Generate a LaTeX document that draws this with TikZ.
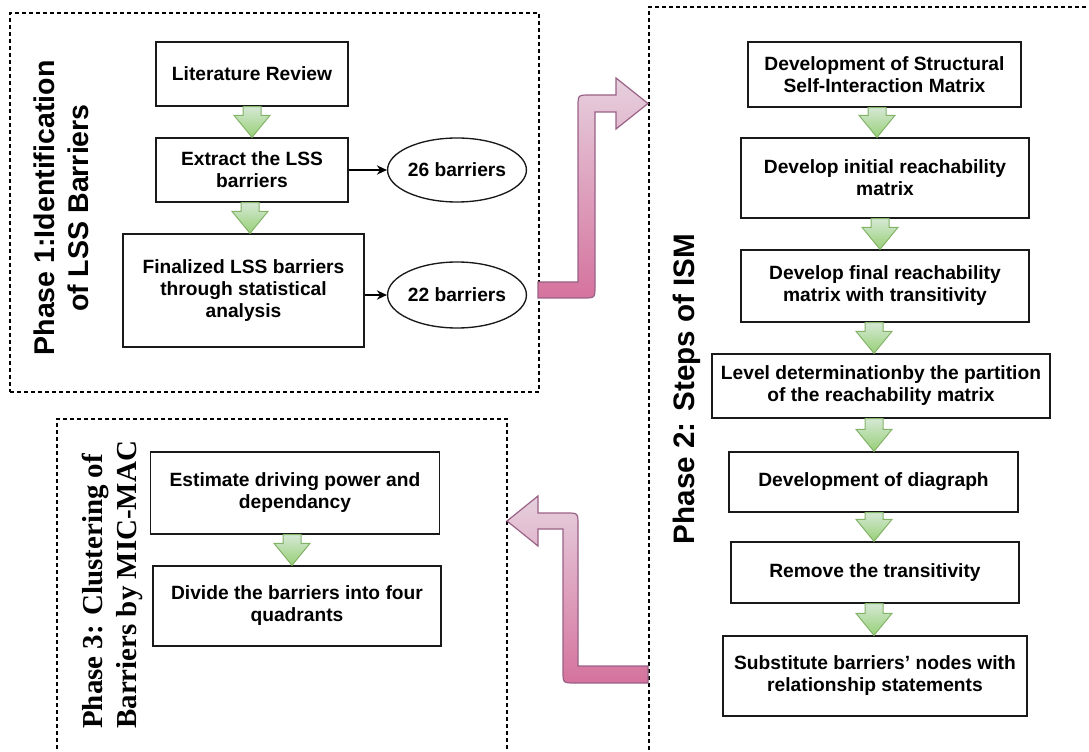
\documentclass[tikz,border=0pt]{standalone}
\usepackage{fontspec}
\setmainfont{Liberation Sans}
\newfontfamily\phaseserif{Liberation Serif}
\usetikzlibrary{calc,arrows.meta,shapes.geometric}

\definecolor{arrowGreenTop}{HTML}{D5E8D4}
\definecolor{arrowGreenBot}{HTML}{97D077}
\definecolor{arrowGreenLine}{HTML}{82B366}
\definecolor{flowPinkTop}{HTML}{E6D0DE}
\definecolor{flowPinkBot}{HTML}{D5739D}
\definecolor{flowPinkLine}{HTML}{996185}

% block arrow between two stacked boxes: #1 source, #2 target, #3 horizontal offset (px)
\newcommand\greenstep[3]{%
  \path[greenarrow] let \p1=($(#1.south)+(#3,0)$), \p2=(#2.north) in
    (\x1-6.75pt,\y1) -- (\x1+6.75pt,\y1) -- (\x1+6.75pt,\y2+16.5pt)
    -- (\x1+13.5pt,\y2+16.5pt) -- (\x1,\y2) -- (\x1-13.5pt,\y2+16.5pt)
    -- (\x1-6.75pt,\y2+16.5pt) -- cycle;}

\begin{document}
\begin{tikzpicture}[x=0.75pt,y=-0.75pt,
  sz/.style 2 args={minimum width=#1*0.75pt, minimum height=#2*0.75pt},
  frame/.style={draw=black, line width=1pt, dash pattern=on 3pt off 2.25pt, inner sep=0pt},
  stepbox/.style={draw=black!90, line width=1pt, fill=white, align=center, inner sep=0pt,
    font=\bfseries\fontsize{14.4}{16.5}\selectfont},
  countnode/.style={stepbox, shape=ellipse},
  conn/.style={line width=1pt, -{Stealth[length=7.5pt,width=7pt]}},
  greenarrow/.style={top color=arrowGreenTop, bottom color=arrowGreenBot, draw=arrowGreenLine, line width=0.75pt},
  flowarrow/.style={top color=flowPinkTop, bottom color=flowPinkBot, draw=flowPinkLine, line width=0.9pt},
  phasesans/.style={rotate=90, inner sep=0pt, font=\bfseries\fontsize{21.4}{25.5}\selectfont}
]
\path[use as bounding box] (0,0) rectangle (1089,752);
\clip (0,0) rectangle (1089,752);

% phase frames
\node[frame, sz={529}{379}] (f1) at (274.5,202.5) {};
\node[frame, sz={461}{768}] (f2) at (879.5,391) {};
\node[frame, sz={450}{356}] (f3) at (282,597) {};

% phase titles
\node[phasesans, align=center] (lab1) at (61.5,208) {Phase 1:Identification\\of LSS Barriers};
\node[phasesans, font=\bfseries\fontsize{22.2}{26}\selectfont] (lab2) at (687,389) {Phase 2: Steps of ISM};
\node[rotate=90, inner sep=0pt, anchor=south west, align=left,
      font=\phaseserif\bfseries\fontsize{21.7}{25.5}\selectfont] (lab3) at (143,729)
      {Phase 3: Clustering of\\Barriers by MIC-MAC};

% phase 1
\node[stepbox, sz={192}{64}] (lit) at (252,74) {Literature Review};
\node[stepbox, sz={192}{64}] (ext) at (252,170) {Extract the LSS\\barriers};
\node[stepbox, sz={241}{113}] (fin) at (243.5,290.5) {Finalized LSS barriers\\through statistical\\analysis};
\node[countnode, sz={128}{64}] (e26) at (457,170) {26 barriers};
\node[countnode, sz={128}{66}] (e22) at (457,295) {22 barriers};
\draw[conn] (ext.east) -- (e26.west);
\draw[conn] (fin.east |- e22.west) -- (e22.west);
\greenstep{lit}{ext}{0}
\greenstep{ext}{fin}{-2}

% phase 2
\node[stepbox, sz={273}{65}] (s1) at (884.5,74.5) {Development of Structural\\Self-Interaction Matrix};
\node[stepbox, sz={288}{80}] (s2) at (885,178) {Develop initial reachability\\matrix};
\node[stepbox, sz={288}{72}] (s3) at (885,286) {Develop final reachability\\matrix with transitivity};
\node[stepbox, sz={338}{64}] (s4) at (881,386) {Level determinationby the partition\\of the reachability matrix};
\node[stepbox, sz={289}{60}] (s5) at (873.5,482) {Development of diagraph};
\node[stepbox, sz={288}{61}] (s6) at (875,572.5) {Remove the transitivity};
\node[stepbox, sz={304}{80}] (s7) at (875,676) {Substitute barriers’ nodes with\\relationship statements};
\greenstep{s1}{s2}{-7.5}
\greenstep{s2}{s3}{-5}
\greenstep{s3}{s4}{-11}
\greenstep{s4}{s5}{-7}
\greenstep{s5}{s6}{0.5}
\greenstep{s6}{s7}{-1}

% phase 3
\node[stepbox, sz={289}{82}] (m1) at (295,493) {Estimate driving power and\\dependancy};
\node[stepbox, sz={288}{80}] (m2) at (297,606) {Divide the barriers into four\\quadrants};
\greenstep{m1}{m2}{-3}

% bent flow arrows between the phases
\path[flowarrow] (538,282) -- (578,282) -- (578,107) .. controls (578,95) .. (590,95)
  -- (616,95) -- (616,78) -- (648,103.5) -- (616,129) -- (616,112) -- (595,112)
  -- (595,286) .. controls (595,298) .. (583,298) -- (538,298) -- cycle;
\path[flowarrow] (507,521) -- (538,496) -- (538,513) -- (566,513) .. controls (578,513) .. (578,525)
  -- (578,666) -- (648,666) -- (648,683) -- (575,683) .. controls (563,683) .. (563,671)
  -- (563,529) -- (538,529) -- (538,546) -- cycle;
\end{tikzpicture}
\end{document}
